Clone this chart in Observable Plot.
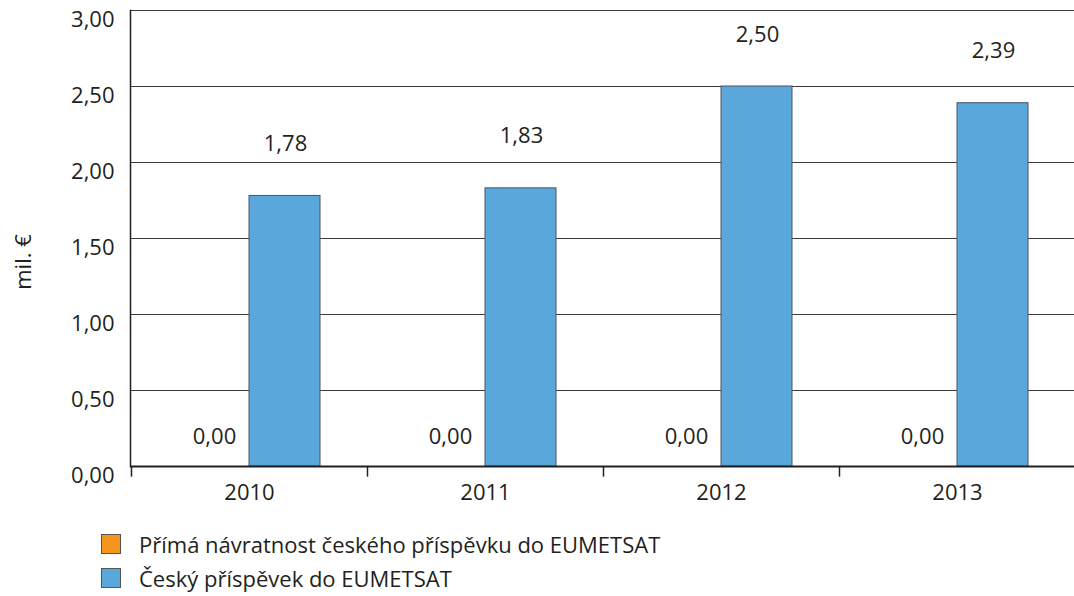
<!DOCTYPE html>
<html><head><meta charset="utf-8">
<script src="https://cdn.jsdelivr.net/npm/d3@7"></script>
<script src="https://cdn.jsdelivr.net/npm/@observablehq/plot@0.6"></script>
<style>
body{margin:0;background:#fff;font-family:"Open Sans",Lato,sans-serif;color:#231f20;}
#wrap{position:relative;width:1074px;height:596px;overflow:hidden;}
.leg{position:absolute;left:101px;display:flex;align-items:center;font-size:22px;line-height:26px;}
.sw{width:20px;height:20px;border:1px solid #555;margin-right:18px;box-sizing:border-box;}
#ylab{position:absolute;left:22px;top:262px;transform:translate(-50%,-50%) rotate(-90deg);font-size:22px;white-space:nowrap;}
</style></head>
<body><div id="wrap"></div>
<script>
const years = ["2010","2011","2012","2013"];
const seriesNames = ["Přímá návratnost českého příspěvku do EUMETSAT","Český příspěvek do EUMETSAT"];
const returnValues = [0.00, 0.00, 0.00, 0.00];
const contributionValues = [1.78, 1.83, 2.50, 2.39];
const yTicks = [0, 0.5, 1, 1.5, 2, 2.5, 3];
const yTitle = "mil. €";
const colors = ["#F7941D", "#5AA7DC"];

const fmt = d => d.toFixed(2).replace(".", ",");
const rows = years.flatMap((y, i) => [
  {year: y, series: seriesNames[0], value: returnValues[i]},
  {year: y, series: seriesNames[1], value: contributionValues[i]}
]);
const orange = rows.filter(d => d.series === seriesNames[0]);
const blue = rows.filter(d => d.series === seriesNames[1]);

const chart = Plot.plot({
  width: 1074, height: 515,
  marginLeft: 130, marginRight: -2, marginTop: 10, marginBottom: 49,
  style: {fontFamily: "'Open Sans', Lato, sans-serif", fontSize: "22px", color: "#231f20", overflow: "visible"},
  x: {domain: years, padding: 0, label: null},
  y: {domain: [0, 3], label: null},
  marks: [
    Plot.ruleY(yTicks.filter(d => d > 0), {stroke: "#3a3a3a", strokeWidth: 1}),
    Plot.barY(orange, {x: "year", y: "value", fill: colors[0], stroke: "#555", strokeWidth: 1, insetLeft: 47, insetRight: 118}),
    Plot.barY(blue, {x: "year", y: "value", fill: colors[1], stroke: "#4a5560", strokeWidth: 1, insetLeft: 118, insetRight: 47}),
    Plot.text(orange, {x: "year", y: "value", text: d => fmt(d.value), dx: -35, dy: -30, fontSize: 22, fill: "#231f20"}),
    Plot.text(blue, {x: "year", y: "value", text: d => fmt(d.value), dx: 36, dy: -52, fontSize: 22, fill: "#231f20"}),
    Plot.ruleY([0], {stroke: "#231f20", strokeWidth: 2}),
    Plot.frame({anchor: "left", stroke: "#231f20", strokeWidth: 1.5}),
    Plot.ruleX(years, {x: d => d, dx: -118, y1: 0, y2: -0.07, stroke: "#231f20", strokeWidth: 1.5}),
    Plot.axisY({ticks: yTicks, tickFormat: fmt, tickSize: 0, tickPadding: 16, dy: 9, fontSize: 22, label: null}),
    Plot.axisX({tickSize: 0, tickPadding: 18, fontSize: 22, label: null})
  ]
});
const wrap = document.getElementById("wrap");
wrap.appendChild(chart);
const yl = document.createElement("div");
yl.id = "ylab"; yl.textContent = yTitle;
wrap.appendChild(yl);
seriesNames.forEach((name, i) => {
  const div = document.createElement("div");
  div.className = "leg";
  div.style.top = (531 + i * 34) + "px";
  div.innerHTML = `<span class="sw" style="background:${colors[i]}"></span><span>${name}</span>`;
  wrap.appendChild(div);
});
</script></body></html>
